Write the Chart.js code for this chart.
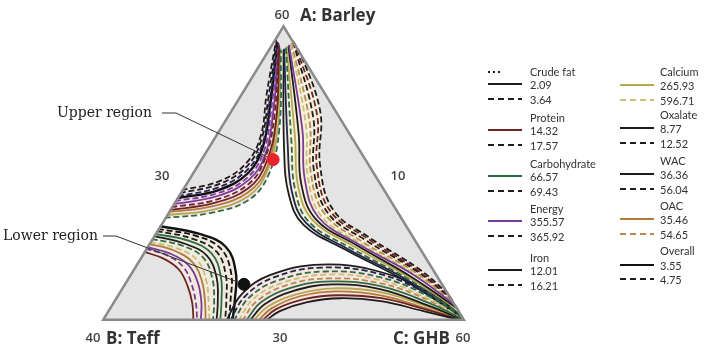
<!DOCTYPE html>
<html>
<head>
<meta charset="utf-8">
<style>
html,body{margin:0;padding:0;background:#fff;}
#wrap{position:relative;width:709px;height:347px;overflow:hidden;background:#fff;}
#c{position:absolute;left:0;top:0;}
.t{position:absolute;white-space:nowrap;line-height:1;}
.ax{font-family:"Open Sans",sans-serif;font-weight:700;font-size:17px;color:#333;transform:translateY(-50%);}
.tk{font-family:"Open Sans",sans-serif;font-weight:600;font-size:13px;color:#444;transform:translate(-50%,-50%);}
.ann{font-family:"DejaVu Serif",serif;font-size:14px;color:#222;transform:translateY(-50%);}
.lg{font-family:Lato,sans-serif;font-size:11px;color:#333;transform:translateY(-50%);}
.sw{position:absolute;transform:translateY(-50%);}
</style>
</head>
<body>
<div id="wrap">
<canvas id="c" width="709" height="347"></canvas>
</div>
<script src="https://cdn.jsdelivr.net/npm/chart.js@4.4.1/dist/chart.umd.min.js"></script>
<script>
// ---------- labels ----------
const categories = ['Crude fat','Protein','Carbohydrate','Energy','Iron','Calcium','Oxalate','WAC','OAC','Overall'];
const lowLevels  = ['2.09','14.32','66.57','355.57','12.01','265.93','8.77','36.36','35.46','3.55'];
const highLevels = ['3.64','17.57','69.43','365.92','16.21','596.71','12.52','56.04','54.65','4.75'];
const vertexLabels = ['A: Barley','B: Teff','C: GHB'];
const vertexValues = ['60','40','60'];
const edgeTicks = ['30','10','30'];
const annotations = ['Upper region','Lower region'];

// ---------- mixture geometry: [Barley %, GHB %]  (Teff = 100 - Barley - GHB) ----------
const vertices = [[60,30],[30,30],[30,60]];
const upperPoint = [46.3,36.0];
const lowerPoint = [33.7,39.9];

// ---------- contour curves, each list of segments of [Barley, GHB] ----------
const crudeFatLow = [
  [[38.6,30],[37.8,33.0],[36.6,35.4],[34.4,37.3],[32.0,38.6],[30,39.5]],
  [[30,43.5],[31.0,44.2],[31.9,46.0],[32.3,48.5],[32.0,52.0],[31.0,56.0],[30.1,59.5]]
];
const crudeFatHigh = [
  [[42.9,30],[43.9,32.9],[45.7,34.2],[48.4,34.0],[52.5,32.5],[58.3,30.3]]
];
const proteinLow = [
  [[41.2,30],[41.9,33.3],[43.4,35.4],[45.9,35.6],[50.4,34.2],[57.7,30.8]],
  [[37.0,30],[36.3,32.0],[35.2,33.8],[33.6,35.3],[31.8,36.6],[30,37.6]],
  [[30,43.2],[31.2,43.8],[32.2,45.6],[32.6,48.2],[32.3,51.9],[31.2,56.0],[30.1,59.5]]
];
const proteinHigh = [
  [[41.5,30],[42.2,33.2],[43.8,35.2],[46.3,35.3],[50.7,33.9],[57.8,30.7]],
  [[58.3,31.7],[50.9,37.3],[45.5,40.0],[41.1,43.3],[38.3,47.8],[35.1,53.5],[32.3,57.7]]
];
const carbohydrateLow = [
  [[38.8,30],[38.1,33.2],[36.8,35.7],[34.5,37.6],[32.0,38.9],[30,39.8]],
  [[30,41.9],[31.9,42.2],[33.3,43.8],[34.0,46.9],[33.5,51.3],[31.8,56.1],[30.2,59.6]]
];
const carbohydrateHigh = [
  [[40.4,30],[40.9,33.5],[42.2,36.0],[44.7,36.4],[49.3,35.0],[57.4,31.1]],
  [[57.6,31.4],[48.1,36.6],[43.3,39.3],[40.0,42.1],[37.4,46.8],[34.3,53.0],[30.7,59.2]],
  [[38.3,30],[37.6,32.9],[36.4,35.2],[34.3,37.0],[32.0,38.3],[30,39.2]],
  [[30,40.9],[32.4,41.0],[34.1,42.5],[35.0,45.9],[34.4,50.8],[32.3,56.1],[30.3,59.6]]
];
const energyLow = [
  [[41.8,30],[42.6,33.2],[44.2,35.0],[46.8,35.1],[51.1,33.6],[57.9,30.7]],
  [[57.9,31.5],[49.3,36.9],[44.3,39.6],[40.5,42.6],[37.8,47.2],[34.7,53.3],[31.4,58.6]],
  [[37.5,30],[36.8,32.3],[35.7,34.3],[33.9,36.0],[31.9,37.3],[30,38.2]]
];
const energyHigh = [
  [[42.1,30],[42.9,33.1],[44.5,34.8],[47.2,34.8],[51.4,33.3],[58.0,30.6]],
  [[37.3,30],[36.6,32.2],[35.4,34.1],[33.7,35.6],[31.8,36.9],[30,37.9]]
];
const ironLow = [
  [[57.8,31.5],[48.9,36.8],[43.9,39.5],[40.3,42.5],[37.7,47.1],[34.5,53.2],[31.2,58.8]],
  [[30,42.2],[31.7,42.6],[33.0,44.2],[33.7,47.2],[33.2,51.4],[31.6,56.0],[30.2,59.5]]
];
const ironHigh = [
  [[43.2,30],[44.2,32.8],[46.1,34.0],[48.8,33.75],[52.8,32.2],[58.4,30.2]],
  [[58.2,31.7],[50.5,37.2],[45.2,39.9],[40.9,43.2],[38.2,47.6],[35.0,53.5],[32.1,57.9]],
  [[39.1,30],[38.3,33.4],[37.0,36.0],[34.7,37.9],[32.0,39.3],[30,40.2]]
];
const calciumLow = [
  [[40.7,30],[41.2,33.4],[42.6,35.8],[45.1,36.1],[49.7,34.7],[57.5,31.0]],
  [[57.7,31.4],[48.5,36.7],[43.6,39.4],[40.2,42.3],[37.6,46.9],[34.4,53.1],[31.0,59.0]],
  [[30,42.5],[31.5,43.0],[32.7,44.7],[33.3,47.5],[32.9,51.6],[31.5,56.0],[30.2,59.5]]
];
const calciumHigh = [
  [[58.0,31.6],[49.7,37.0],[44.6,39.7],[40.6,42.8],[37.9,47.3],[34.8,53.3],[31.6,58.3]],
  [[38.0,30],[37.3,32.7],[36.1,34.9],[34.1,36.6],[31.9,37.9],[30,38.9]],
  [[30,41.3],[32.2,41.4],[33.8,42.9],[34.7,46.2],[34.1,51.0],[32.1,56.1],[30.2,59.6]]
];
const oxalateLow = [
  [[57.5,31.3],[47.7,36.5],[43.0,39.2],[39.9,41.9],[37.3,46.6],[34.2,53.0],[30.5,59.4]]
];
const oxalateHigh = [
  [[42.6,30],[43.5,32.9],[45.3,34.4],[48.0,34.3],[52.1,32.8],[58.2,30.4]],
  [[30,40.6],[32.5,40.6],[34.4,42.0],[35.4,45.5],[34.7,50.7],[32.4,56.1],[30.3,59.6]]
];
const wacLow = [
  [[57.4,31.3],[47.3,36.4],[42.7,39.1],[39.7,41.8],[37.2,46.5],[34.1,52.9],[30.3,59.6]],
  [[30,40.3],[32.7,40.2],[34.65,41.6],[35.7,45.2],[34.95,50.5],[32.6,56.1],[30.3,59.6]]
];
const wacHigh = [
  [[58.4,31.75],[51.3,37.35],[45.8,40.1],[41.2,43.5],[38.4,47.9],[35.2,53.6],[32.5,57.5]]
];
const oacLow = [
  [[41.0,30],[41.6,33.4],[43.0,35.6],[45.5,35.9],[50.0,34.4],[57.6,30.9]],
  [[37.8,30],[37.1,32.5],[35.9,34.6],[34.0,36.3],[31.9,37.6],[30,38.6]],
  [[30,42.9],[31.3,43.4],[32.5,45.1],[33.0,47.8],[32.6,51.7],[31.3,56.0],[30.1,59.5]]
];
const oacHigh = [
  [[58.1,31.6],[50.1,37.1],[44.9,39.8],[40.8,43.0],[38.0,47.5],[34.9,53.4],[31.8,58.1]],
  [[30,41.6],[32.0,41.8],[33.6,43.4],[34.3,46.5],[33.8,51.1],[32.0,56.1],[30.2,59.6]]
];
const overallLow = [
  [[42.4,30],[43.2,33.0],[44.9,34.6],[47.6,34.5],[51.8,33.0],[58.1,30.5]],
  [[39.6,30],[38.8,33.7],[37.5,36.5],[34.95,38.6],[32.1,39.95],[30,40.8]]
];
const overallHigh = [
  [[39.3,30],[38.6,33.5],[37.3,36.2],[34.8,38.3],[32.1,39.6],[30,40.5]]
];

const seriesCurves = [
  [crudeFatLow, crudeFatHigh], [proteinLow, proteinHigh], [carbohydrateLow, carbohydrateHigh],
  [energyLow, energyHigh], [ironLow, ironHigh], [calciumLow, calciumHigh],
  [oxalateLow, oxalateHigh], [wacLow, wacHigh], [oacLow, oacHigh], [overallLow, overallHigh]
];

// ---------- styles ----------
const lowColors  = ['#1c1c1c','#6e2424','#2f6b44','#7b3c97','#1c1c1c','#b7a84f','#1f2650','#1c1c1c','#b07b3c','#111111'];
const highColors = ['#1c1c1c','#6e2424','#2f6b44','#7b3c97','#1c1c1c','#cdbf78','#1f2650','#1c1c1c','#b98a4e','#111111'];
const legendSwatchColors = ['#1c1c1c','#6e2424','#2f6b44','#7b3c97','#1c1c1c','#b7a84f','#1c1c1c','#1c1c1c','#b07b3c','#111111'];
const legendSwatchHigh   = ['#1c1c1c','#1c1c1c','#1c1c1c','#1c1c1c','#1c1c1c','#cdbf78','#1c1c1c','#1c1c1c','#b98a4e','#1c1c1c'];

function toXY(p) { return {x: (p[1] - 30) + (p[0] - 30) / 2, y: p[0] - 30}; }
function pts(seg) { return seg.map(toXY); }

const datasets = [];
// triangle outline (top)
datasets.push({data: pts(vertices.concat([vertices[0]])), borderColor: '#8a8a8a', borderWidth: 5, tension: 0, fill: false, pointRadius: 0, order: 0});
// design points
datasets.push({data: [toXY(upperPoint)], showLine: false, pointRadius: 6, pointBackgroundColor: '#e8222c', pointBorderColor: '#e8222c', order: 1});
datasets.push({data: [toXY(lowerPoint)], showLine: false, pointRadius: 6, pointBackgroundColor: '#111', pointBorderColor: '#111', order: 1});
// contour curves
seriesCurves.forEach((pair, i) => {
  pair.forEach((segs, lev) => {
    segs.forEach(seg => {
      datasets.push({
        data: pts(seg), borderColor: lev ? highColors[i] : lowColors[i],
        borderWidth: (i === 9 && !lev) ? 2.4 : 1.8, borderDash: lev ? [6, 3] : [],
        tension: 0.4, fill: false, pointRadius: 0, order: 2
      });
    });
  });
});
// white feasible region
const whiteRegion = [].concat(overallLow[1], wacLow[1], wacLow[0].slice().reverse(), carbohydrateHigh[0].slice().reverse());
datasets.push({data: pts(whiteRegion), borderWidth: 0, borderColor: 'rgba(0,0,0,0)', backgroundColor: '#ffffff', fill: 'shape', tension: 0.4, pointRadius: 0, order: 3});
// tinted bands
const bands = [
  [carbohydrateHigh[0], ironHigh[0], '#f2e3ea'],
  [wacLow[0], wacHigh[0], '#f5efdc'],
  [proteinLow[1], overallLow[1], '#f1ebdf'],
  [crudeFatLow[1], wacLow[1], '#f5e6e0']
];
bands.forEach(b => {
  datasets.push({data: pts(b[0].concat(b[1].slice().reverse())), borderWidth: 0, borderColor: 'rgba(0,0,0,0)', backgroundColor: b[2], fill: 'shape', tension: 0.4, pointRadius: 0, order: 4});
});
// triangle background
datasets.push({data: pts(vertices), borderWidth: 0, borderColor: 'rgba(0,0,0,0)', backgroundColor: '#e4e4e4', fill: 'shape', tension: 0, pointRadius: 0, order: 5});

const triClip = {
  id: 'triClip',
  beforeDatasetsDraw(chart) {
    const {ctx, scales: {x, y}} = chart;
    ctx.save();
    ctx.beginPath();
    vertices.forEach((v, i) => {
      const p = toXY(v);
      const px = x.getPixelForValue(p.x), py = y.getPixelForValue(p.y);
      if (i) ctx.lineTo(px, py); else ctx.moveTo(px, py);
    });
    ctx.closePath();
    ctx.clip();
  },
  afterDatasetsDraw(chart) {
    const {ctx, scales: {x, y}} = chart;
    ctx.restore();
    const leaders = [[[162, 113], [176, 113], upperPoint], [[103, 236], [116, 236], lowerPoint]];
    ctx.save();
    ctx.strokeStyle = '#333';
    ctx.lineWidth = 1;
    leaders.forEach(l => {
      const p = toXY(l[2]);
      let ex = x.getPixelForValue(p.x), ey = y.getPixelForValue(p.y);
      const dx = ex - l[1][0], dy = ey - l[1][1], d = Math.hypot(dx, dy);
      ex -= dx / d * 6; ey -= dy / d * 6;
      ctx.beginPath();
      ctx.moveTo(l[0][0], l[0][1]);
      ctx.lineTo(l[1][0], l[1][1]);
      ctx.lineTo(ex, ey);
      ctx.stroke();
    });
    ctx.restore();
  }
};

new Chart(document.getElementById('c'), {
  type: 'line',
  data: {datasets},
  options: {
    responsive: false, animation: false, events: [],
    layout: {padding: {left: 101, right: 243, top: 24, bottom: 26}},
    scales: {
      x: {type: 'linear', min: 0, max: 30, display: false},
      y: {type: 'linear', min: 0, max: 30, display: false}
    },
    plugins: {legend: {display: false}, tooltip: {enabled: false}}
  },
  plugins: [triClip]
});

// ---------- HTML text ----------
const wrap = document.getElementById('wrap');
function addText(cls, txt, x, y) {
  const d = document.createElement('div');
  d.className = 't ' + cls; d.textContent = txt;
  d.style.left = x + 'px'; d.style.top = y + 'px';
  wrap.appendChild(d);
}
addText('tk', vertexValues[0], 282, 14);
addText('ax', vertexLabels[0], 300, 14);
addText('tk', vertexValues[1], 93, 337);
addText('ax', vertexLabels[1], 106, 337);
addText('ax', vertexLabels[2], 393, 337);
addText('tk', vertexValues[2], 463, 337);
addText('tk', edgeTicks[0], 162, 175);
addText('tk', edgeTicks[1], 398, 175);
addText('tk', edgeTicks[2], 280, 337);
addText('ann', annotations[0], 57, 112);
addText('ann', annotations[1], 3, 235);

function swatch(x, y, w, color, dash) {
  const ns = 'http://www.w3.org/2000/svg';
  const s = document.createElementNS(ns, 'svg');
  s.setAttribute('width', w); s.setAttribute('height', 4);
  s.setAttribute('class', 'sw');
  s.style.left = x + 'px'; s.style.top = y + 'px';
  const l = document.createElementNS(ns, 'line');
  l.setAttribute('x1', 0); l.setAttribute('y1', 2); l.setAttribute('x2', w); l.setAttribute('y2', 2);
  l.setAttribute('stroke', color); l.setAttribute('stroke-width', 2);
  if (dash) l.setAttribute('stroke-dasharray', dash);
  s.appendChild(l);
  wrap.appendChild(s);
}
const legendCols = [
  {sx: 488, tx: 530, heads: [70.7, 116.7, 163.3, 208.3, 256.7], lo: 13, hi: 28},
  {sx: 620, tx: 660, heads: [70.7, 113.5, 159.5, 204.5, 250], lo: 14.5, hi: 29}
];
categories.forEach((name, i) => {
  const col = legendCols[i < 5 ? 0 : 1];
  const hy = col.heads[i % 5];
  addText('lg', name, col.tx, hy);
  addText('lg', lowLevels[i], col.tx, hy + col.lo);
  addText('lg', highLevels[i], col.tx, hy + col.hi);
  swatch(col.sx, hy + col.lo, 34, legendSwatchColors[i], null);
  swatch(col.sx, hy + col.hi, 34, legendSwatchHigh[i], '6,4');
  if (i === 0) swatch(col.sx, hy + 1, 13, '#1c1c1c', '2,3');
});
</script>
</body>
</html>
